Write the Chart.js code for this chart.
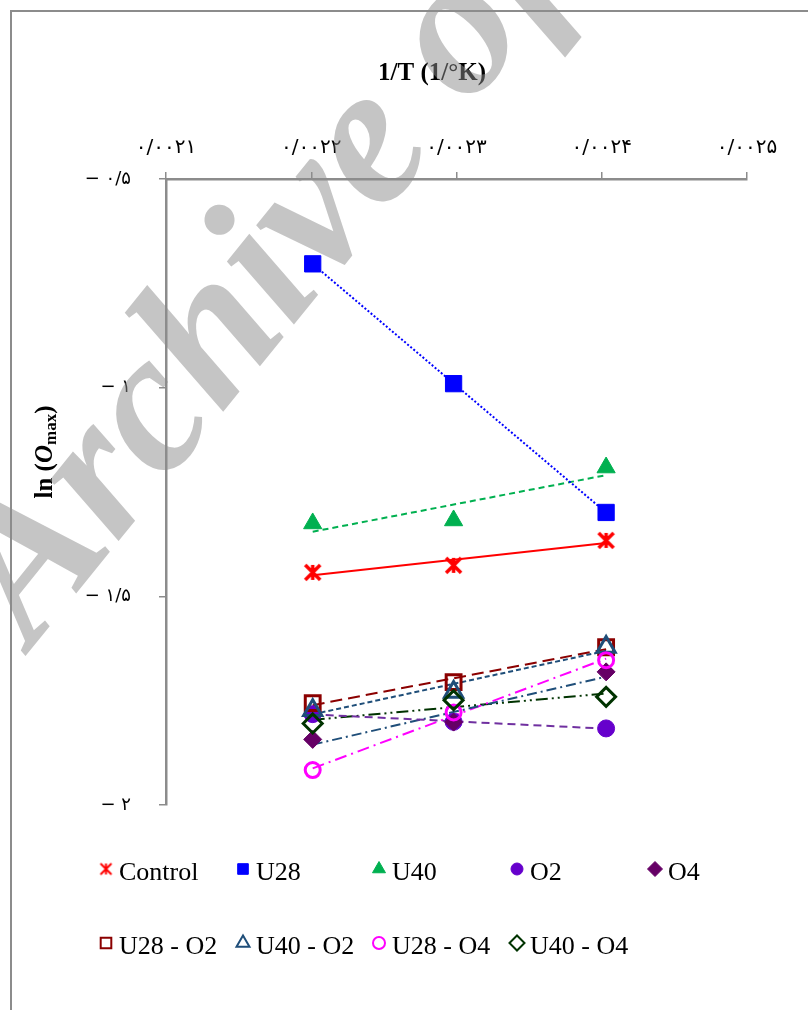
<!DOCTYPE html>
<html>
<head>
<meta charset="utf-8">
<script src="https://cdn.jsdelivr.net/npm/chart.js@4"></script>
<style>
  html, body { margin: 0; padding: 0; background: #fff; }
  #wrap { width: 808px; height: 1010px; position: relative; }
</style>
</head>
<body>
<div id="wrap"><canvas id="chart" width="808" height="1010"></canvas></div>
<script>
// ------------------------------------------------------------------
// data
// ------------------------------------------------------------------
const invT = [0.002201, 0.002298, 0.002403];

const controlY = [-1.4426, -1.4258, -1.3660];
const u28Y     = [-0.7033, -0.9904, -1.2990];
const u40Y     = [-1.3254, -1.3182, -1.1914];
const o2Y      = [-1.7823, -1.8007, -1.8165];
const o4Y      = [-1.8428, -1.8014, -1.6810];
const u28o2Y   = [-1.7560, -1.7057, -1.6220];
const u40o2Y   = [-1.7727, -1.7290, -1.6213];
const u28o4Y   = [-1.9163, -1.7782, -1.6531];
const u40o4Y   = [-1.8046, -1.7488, -1.7409];

const seriesNames = ['Control', 'U28', 'U40', 'O2', 'O4', 'U28 - O2', 'U40 - O2', 'U28 - O4', 'U40 - O4'];
const xTicks = [0.0021, 0.0022, 0.0023, 0.0024, 0.0025];
const yTicks = [-0.5, -1, -1.5, -2];

// asterisk marker (Excel "star") - chart.js has no such point style
function asterisk(size, lw) {
  const c = document.createElement('canvas');
  c.width = c.height = size + 4;
  const g = c.getContext('2d');
  const m = (size + 4) / 2, h = size / 2;
  g.strokeStyle = '#ff0000';
  g.lineWidth = lw;
  g.beginPath();
  g.moveTo(m - h, m - h); g.lineTo(m + h, m + h);
  g.moveTo(m + h, m - h); g.lineTo(m - h, m + h);
  g.moveTo(m, m - h); g.lineTo(m, m + h);
  g.stroke();
  return c;
}
const starBig = asterisk(15, 3.5);
const starSmall = asterisk(11, 2);

// ------------------------------------------------------------------
// styles (marker + trendline) per series
// ------------------------------------------------------------------
const styles = [
  { y: controlY, marker: starBig,    r: 9,    fill: '#ff0000', stroke: '#ff0000', bw: 1, line: '#ff0000', dash: [] },
  { y: u28Y,     marker: 'rect',     r: 11.5, fill: '#0000ff', stroke: '#0000ff', bw: 1, line: '#0000ff', dash: [2, 2] },
  { y: u40Y,     marker: 'triangle', r: 10.5, fill: '#00b050', stroke: '#00b050', bw: 1, line: '#00b050', dash: [6, 4] },
  { y: o2Y,      marker: 'circle',   r: 8.5,  fill: '#6600cc', stroke: '#6600cc', bw: 1, line: '#7030a0', dash: [8, 5] },
  { y: o4Y,      marker: 'rectRot',  r: 9,    fill: '#660066', stroke: '#660066', bw: 1, line: '#1f4e79', dash: [10, 4, 2, 4] },
  { y: u28o2Y,   marker: 'rect',     r: 10.5, fill: 'transparent', stroke: '#8b0000', bw: 3, line: '#8b0000', dash: [12, 6] },
  { y: u40o2Y,   marker: 'triangle', r: 10.5, fill: 'transparent', stroke: '#1f4e79', bw: 3, line: '#1f4e79', dash: [5, 3] },
  { y: u28o4Y,   marker: 'circle',   r: 7.5,  fill: 'transparent', stroke: '#ff00ff', bw: 3, line: '#ff00ff', dash: [12, 5, 2, 5] },
  { y: u40o4Y,   marker: 'rectRot',  r: 9.5,  fill: 'transparent', stroke: '#003300', bw: 3, line: '#003300', dash: [12, 4, 2, 4, 2, 4] },
];

const faDigits = '۰۱۲۳۴۵۶۷۸۹';
function toFa(str) {
  return str.replace(/[0-9]/g, d => faDigits[+d]).replace('.', '/');
}
function fmtTick(v, dec) {
  let s = Math.abs(v).toFixed(dec).replace(/0+$/, '').replace(/\.$/, '');
  return (v < 0 ? '\u2212 ' : '') + toFa(s);
}

// linear trendline over the data range (like Excel's trendline)
function trend(xs, ys) {
  const n = xs.length;
  const mx = xs.reduce((a, b) => a + b, 0) / n;
  const my = ys.reduce((a, b) => a + b, 0) / n;
  let sxy = 0, sxx = 0;
  xs.forEach((x, i) => { sxy += (x - mx) * (ys[i] - my); sxx += (x - mx) * (x - mx); });
  const b = sxy / sxx, a = my - b * mx;
  return [xs[0], xs[n - 1]].map(x => ({ x, y: a + b * x }));
}

const datasets = [];
styles.forEach((s, i) => {
  datasets.push({
    label: seriesNames[i] + ' trend',
    data: trend(invT, s.y),
    showLine: true,
    borderColor: s.line,
    borderWidth: 2,
    borderDash: s.dash,
    pointRadius: 0,
    order: 20 + i,
  });
});
styles.forEach((s, i) => {
  datasets.push({
    label: seriesNames[i],
    data: invT.map((x, k) => ({ x, y: s.y[k] })),
    showLine: false,
    pointStyle: s.marker,
    pointRadius: s.r,
    pointHoverRadius: s.r,
    pointBackgroundColor: s.fill,
    pointBorderColor: s.stroke,
    pointBorderWidth: s.bw,
    order: 10 - i,
  });
});

// ------------------------------------------------------------------
// extras: frame, axis titles, legend, watermark on top
// ------------------------------------------------------------------
const serif = '"Liberation Serif", "Times New Roman", serif';

const extras = {
  id: 'extras',
  afterDraw(chart) {
    const ctx = chart.ctx;
    ctx.save();
    // outer frame
    ctx.strokeStyle = '#8c8c8c';
    ctx.lineWidth = 2;
    ctx.beginPath();
    ctx.moveTo(11, 1010);
    ctx.lineTo(11, 11);
    ctx.lineTo(808, 11);
    ctx.stroke();

    // x title
    ctx.fillStyle = '#000';
    ctx.font = 'bold 25px ' + serif;
    ctx.textAlign = 'center';
    ctx.textBaseline = 'middle';
    ctx.fillText('1/T (1/°K)', 432, 74);

    // y title: ln (O_max)
    ctx.translate(46, 452);
    ctx.rotate(-Math.PI / 2);
    const parts = [
      { t: 'ln (', f: 'bold 25px ' + serif, dy: 0 },
      { t: 'O', f: 'italic bold 25px ' + serif, dy: 0 },
      { t: 'max', f: 'bold 17px ' + serif, dy: 6 },
      { t: ')', f: 'bold 25px ' + serif, dy: 0 },
    ];
    let w = 0;
    parts.forEach(p => { ctx.font = p.f; w += ctx.measureText(p.t).width; });
    let x = -w / 2;
    ctx.textAlign = 'left';
    parts.forEach(p => {
      ctx.font = p.f;
      ctx.fillText(p.t, x, p.dy);
      x += ctx.measureText(p.t).width;
    });
    ctx.restore();

    // legend (Excel lays it out as a 5-column grid)
    const cols = [106, 243, 379, 517, 655];
    const rows = [872, 946];
    ctx.save();
    ctx.font = '26px ' + serif;
    ctx.textBaseline = 'middle';
    ctx.textAlign = 'left';
    styles.forEach((s, i) => {
      const lx = cols[i % 5], ly = rows[Math.floor(i / 5)];
      if (s.marker === starBig) {
        ctx.drawImage(starSmall, lx - starSmall.width / 2, ly - 3 - starSmall.height / 2);
      } else {
        ctx.fillStyle = s.fill;
        ctx.strokeStyle = s.stroke;
        ctx.lineWidth = s.fill === 'transparent' ? 2 : 1;
        Chart.helpers.drawPoint(ctx, {
          pointStyle: s.marker,
          radius: s.marker === 'circle' ? 6 : 7.5,
          rotation: 0,
          borderWidth: ctx.lineWidth,
        }, lx, ly - 3);
      }
      ctx.fillStyle = '#000';
      ctx.fillText(seriesNames[i], lx + 13, ly + 1);
    });
    ctx.restore();

    // watermark, semi transparent over everything
    ctx.save();
    ctx.translate(32, 648);
    ctx.rotate(-51 * Math.PI / 180);
    ctx.font = 'italic bold 200px ' + serif;
    ctx.fillStyle = 'rgba(140, 140, 140, 0.5)';
    ctx.textBaseline = 'alphabetic';
    ctx.fillText('Archive of SID', 0, 0);
    ctx.restore();
  },
};

new Chart(document.getElementById('chart'), {
  type: 'scatter',
  data: { datasets },
  options: {
    responsive: false,
    animation: false,
    events: [],
    layout: { padding: { left: 0, top: 0, right: 61, bottom: 205 } },
    plugins: { legend: { display: false }, tooltip: { enabled: false } },
    scales: {
      x: {
        type: 'linear',
        position: 'top',
        min: xTicks[0],
        max: xTicks[xTicks.length - 1],
        afterBuildTicks: axis => { axis.ticks = xTicks.map(v => ({ value: v })); },
        afterFit: axis => { axis.height = 179; },
        border: { color: '#8c8c8c', width: 2.5 },
        grid: { drawOnChartArea: false, drawTicks: true, tickLength: 7, color: '#8c8c8c', lineWidth: 1.5 },
        ticks: {
          padding: 12,
          maxRotation: 0,
          color: '#000',
          font: { family: 'DejaVu Sans', size: 20 },
          callback: v => fmtTick(v, 4),
        },
      },
      y: {
        type: 'linear',
        min: yTicks[yTicks.length - 1],
        max: yTicks[0],
        afterBuildTicks: axis => { axis.ticks = yTicks.map(v => ({ value: v })); },
        afterFit: axis => { axis.width = 166; },
        border: { color: '#8c8c8c', width: 2.5 },
        grid: { drawOnChartArea: false, drawTicks: true, tickLength: 7, color: '#8c8c8c', lineWidth: 1.5 },
        ticks: {
          padding: 28,
          color: '#000',
          font: { family: 'DejaVu Sans', size: 18 },
          callback: v => fmtTick(v, 1),
        },
      },
    },
  },
  plugins: [extras],
});
</script>
</body>
</html>
